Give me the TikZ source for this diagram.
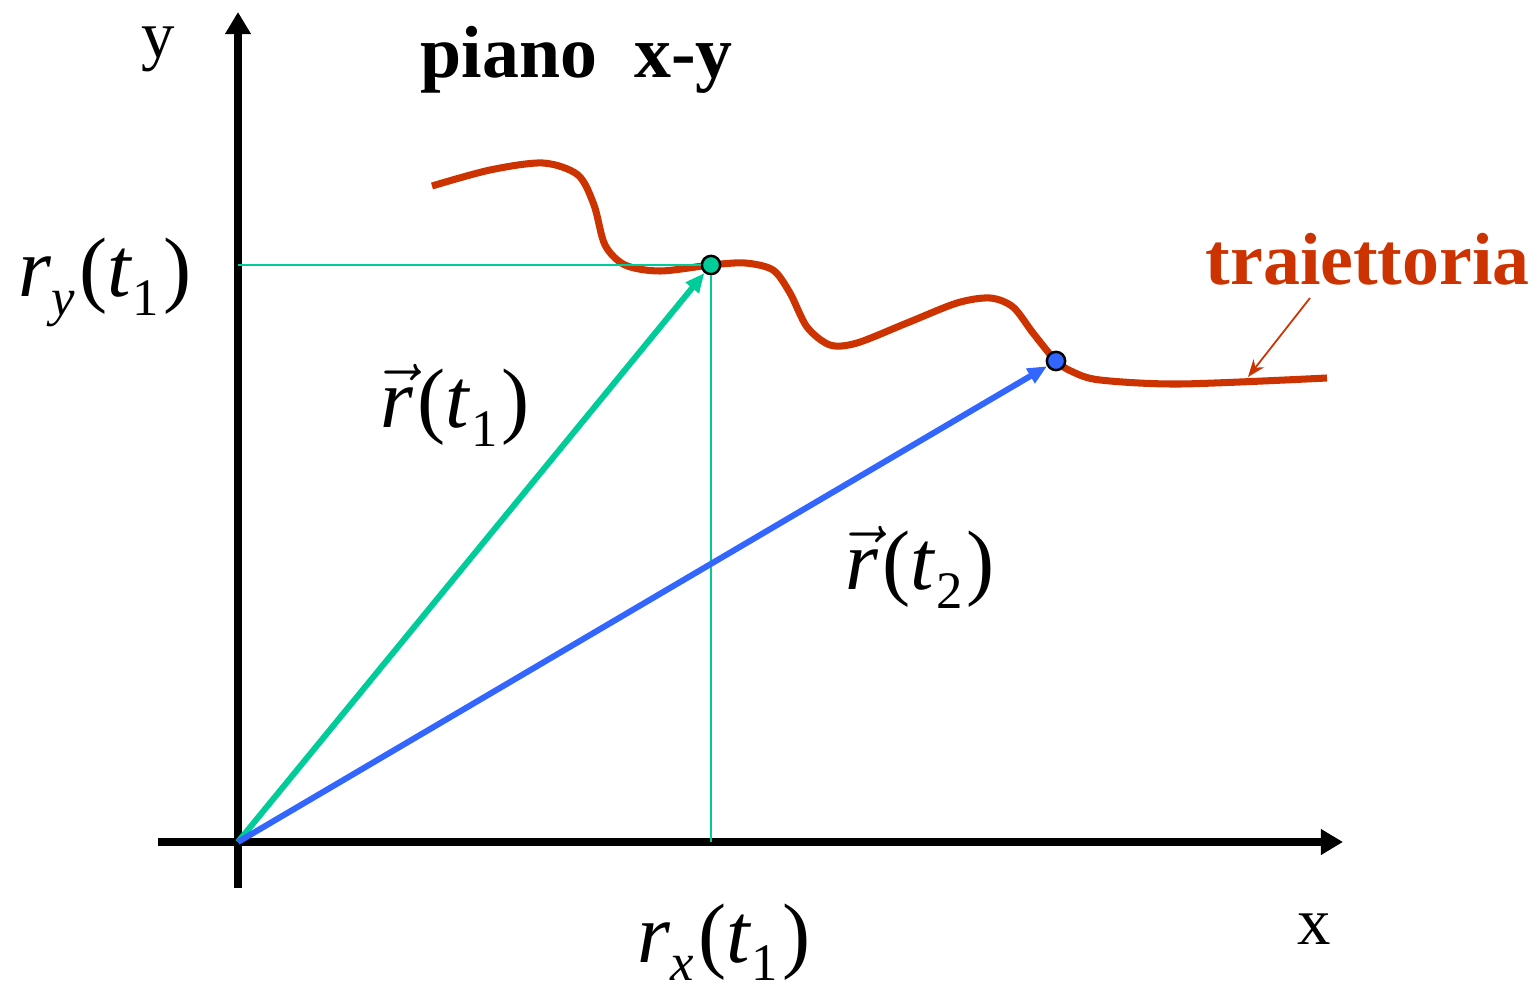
\documentclass[tikz,border=0pt]{standalone}
\usepackage{fix-cm}
\usepackage{fontspec}
\setmainfont{Liberation Serif}
\usetikzlibrary{positioning,arrows.meta}
\definecolor{traj}{HTML}{CC3300}
\definecolor{grn}{HTML}{00CC99}
\definecolor{blu}{HTML}{3366FF}

\begin{document}
\begin{tikzpicture}[x=0.01cm, y=-0.01cm,
  axis/.style={line width=2.2pt, -{Triangle[length=6.3pt,width=7pt]}},
  vec/.style={line width=1.7pt, -{Triangle[length=5.5pt,width=4.6pt]}},
  proj/.style={grn, line width=0.6pt},
  dot/.style={circle, draw, line width=0.7pt, inner sep=0pt, minimum size=5.2pt},
  big/.style={font=\fontsize{24}{28}\selectfont, inner sep=0pt, anchor=base west},
  lbl/.style={font=\fontsize{19}{22}\selectfont, inner sep=0pt, anchor=base},
  head/.style={font=\fontsize{21}{24}\selectfont\bfseries, inner sep=0pt, anchor=base west}]
\newcommand{\idx}[1]{\raisebox{-0.22em}{\fontsize{15}{17}\selectfont #1}}
\newcommand{\rof}[2]{#1\kern1.2pt(\textit{t}\idx{#2}\kern1.2pt)}
\useasboundingbox (0,0) rectangle (1535,988);
% axes
\coordinate (o) at (238,842);
\coordinate (ybot) at (238,888);
\coordinate (ytop) at (238,12);
\coordinate (xlft) at (158,842);
\coordinate (xrgt) at (1343,842);
\draw[axis] (ybot) -- (ytop);
\draw[axis] (xlft) -- (xrgt);
\node[lbl] (ylab) at (158,58) {y};
\node[lbl] (xlab) at (1314,945) {x};
\node[head] (title) at (420,78) {piano\ \ x-y};
% trajectory
\draw[traj, line width=2pt] plot[smooth] coordinates {(432,186) (490,170) (543,163)
  (578,175) (594,205) (605,245) (625,265) (660,271) (711,265) (745,263) (773,270)
  (790,293) (807,327) (830,345) (857,343) (907,323) (957,303) (990,298) (1013,307)
  (1033,333) (1056,361) (1073,372) (1100,380) (1180,384) (1327,378)};
\node[head, traj] (tlab) at (1205,285) {traiettoria};
\coordinate (tail) at (1310,298);
\coordinate (hit) at (1248,377);
\draw[traj, line width=0.5pt, -{Stealth[length=5pt,width=3.8pt]}] (tail) -- (hit);
% points and vectors
\node[dot, fill=grn] (p1) at (711,265) {};
\node[dot, fill=blu] (p2) at (1056,361) {};
\draw[proj] (p1 -| o) -- (p1.west);
\draw[proj] (p1.south) -- (p1 |- o);
\foreach \p/\c in {p1/grn, p2/blu}
  \draw[vec, \c] (o) -- (\p);
\node[big] (ry) at (18,297) {\rof{\textit{r}\idx{\textit{y}}}{1}};
\node[big] (rx) at (637,962) {\rof{\textit{r}\idx{\textit{x}}}{1}};
\node[big] (r1) at (380,428) {\rof{$\vec{\mbox{\itshape r}}$}{1}};
\node[big] (r2) at (845,590) {\rof{$\vec{\mbox{\itshape r}}$}{2}};
\end{tikzpicture}
\end{document}
